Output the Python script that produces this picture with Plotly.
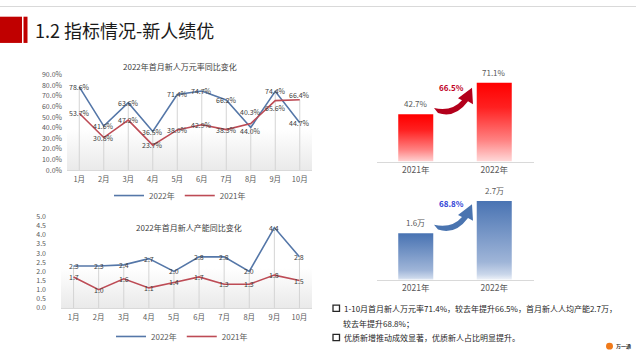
import plotly.graph_objects as go

W, H = 636, 357

months = ['1月', '2月', '3月', '4月', '5月', '6月', '7月', '8月', '9月', '10月']
rate_2022 = [78.6, 41.6, 63.6, 36.5, 71.4, 74.7, 66.2, 40.3, 74.4, 44.7]
rate_2021 = [53.7, 30.8, 47.2, 23.7, 38.0, 42.9, 38.3, 44.0, 65.6, 66.4]
cap_2022 = [2.3, 2.3, 2.36, 2.7, 2.0, 2.8, 2.8, 2.0, 4.4, 2.8]
cap_2021 = [1.7, 1.0, 1.6, 1.1, 1.4, 1.7, 1.3, 1.3, 1.8, 1.5]
years = ['2021年', '2022年']
rate_totals = [42.7, 71.1]
cap_totals = [1.6, 2.7]
rate_growth = '66.5%'
cap_growth = '68.8%'

BLUE = '#5577a8'
RED = '#bd4b55'
FONT = 'Noto Sans CJK SC'
TXT = '#404040'


def px(x):
    return x / W


def py(y):
    return 1 - y / H


fig = go.Figure()
N = len(months)
IDX = list(range(N))


def line_chart(xa, ya, s22, s21, ymax, fmt, legend, shift22, shift21):
    # soft gray gradient background over the plot area
    fig.add_trace(go.Scatter(
        x=[-0.5, -0.5, N - 0.5, N - 0.5], y=[0, ymax, ymax, 0], fill='toself',
        mode='lines', line=dict(width=0, color='rgba(0,0,0,0)'),
        fillgradient=dict(type='vertical', start=0, stop=ymax,
                          colorscale=[[0, '#e8e8e8'], [0.45, '#ffffff'], [1, '#ffffff']]),
        xaxis=xa, yaxis=ya, showlegend=False, hoverinfo='skip'))
    # drop lines from axis up to the higher point
    tops = [max(a, b) for a, b in zip(s22, s21)]
    fig.add_trace(go.Scatter(
        x=IDX, y=tops, mode='markers', marker=dict(size=1, opacity=0),
        error_y=dict(type='data', symmetric=False, array=[0] * N, arrayminus=tops,
                     width=0, thickness=1, color='#d4d4d4'),
        xaxis=xa, yaxis=ya, showlegend=False, hoverinfo='skip'))
    for name, s, col, sh in [('2022年', s22, BLUE, shift22), ('2021年', s21, RED, shift21)]:
        fig.add_trace(go.Scatter(
            x=IDX, y=s, mode='lines', name=name, line=dict(color=col, width=1.6),
            xaxis=xa, yaxis=ya, legend=legend))
        for i, v in enumerate(s):
            fig.add_annotation(x=i, y=v, xref=xa, yref=ya, text=fmt(v), showarrow=False,
                               yshift=sh[i], font=dict(size=7, color=TXT, family=FONT))


sh22_a = [0] * N
sh22_a[7] = 15
sh21_a = [0] * N
sh21_a[7] = -7
sh21_a[8] = -7
sh21_a[9] = 5
line_chart('x', 'y', rate_2022, rate_2021, 90, lambda v: f'{v:.1f}%', 'legend', sh22_a, sh21_a)
line_chart('x2', 'y2', cap_2022, cap_2021, 5, lambda v: f'{v:.1f}', 'legend2', [0] * N, [0] * N)

# ---------- gradient bars ----------
BW = 0.446
red_scale = [[0, '#ffe4e4'], [0.3, '#ff8080'], [0.7, '#ff2020'], [1, '#ff0000']]
blue_scale = [[0, '#ffffff'], [0.1, '#c9d6ea'], [0.25, '#9fb5d8'], [1, '#4a74b3']]


def bars(xa, ya, vals, scale, suffix):
    for i, v in enumerate(vals):
        fig.add_trace(go.Scatter(
            x=[i - BW / 2, i - BW / 2, i + BW / 2, i + BW / 2], y=[0, v, v, 0],
            fill='toself', mode='lines', line=dict(width=0, color='rgba(0,0,0,0)'),
            fillgradient=dict(type='vertical', start=0, stop=v, colorscale=scale),
            xaxis=xa, yaxis=ya, showlegend=False, hoverinfo='skip'))
        fig.add_annotation(x=i, y=v, xref=xa, yref=ya, text=f'{v}{suffix}',
                           showarrow=False, yanchor='bottom', yshift=3,
                           font=dict(size=8, color='#595959', family=FONT))


bars('x3', 'y3', rate_totals, red_scale, '%')
bars('x4', 'y4', cap_totals, blue_scale, '万')

# ---------- axes ----------
tickf = dict(size=7, color='#595959', family=FONT)
monthf = dict(size=7.5, color='#595959', family=FONT)
fig.update_layout(
    xaxis=dict(domain=[px(67), px(312)], range=[-0.5, N - 0.5], anchor='y',
               tickvals=IDX, ticktext=months, zeroline=False,
               showgrid=False, showline=True, linecolor='#d9d9d9', ticks='',
               tickfont=monthf, ticklabelstandoff=2),
    yaxis=dict(domain=[py(169), py(70.7)], range=[0, 90], dtick=10, anchor='x',
               tickformat='.1f', ticksuffix='%', showgrid=False, zeroline=False,
               tickfont=tickf, ticklabelstandoff=4),
    xaxis2=dict(domain=[px(61), px(312)], range=[-0.5, N - 0.5], anchor='y2',
                tickvals=IDX, ticktext=months, zeroline=False,
                showgrid=False, showline=True, linecolor='#d9d9d9', ticks='',
                tickfont=monthf, ticklabelstandoff=2),
    yaxis2=dict(domain=[py(310.7), py(216.7)], range=[0, 5], dtick=0.5, anchor='x2',
                tickformat='.1f', showgrid=False, zeroline=False,
                tickfont=tickf, ticklabelstandoff=14),
    xaxis3=dict(domain=[px(376.5), px(533.5)], range=[-0.5, 1.5], anchor='y3',
                tickvals=[0, 1], ticktext=years, showgrid=False, zeroline=False,
                showline=True, linecolor='#d9d9d9', ticks='',
                tickfont=dict(size=8.5, color='#595959', family=FONT)),
    yaxis3=dict(domain=[py(160), py(68.8)], range=[0, 80], anchor='x3', visible=False),
    xaxis4=dict(domain=[px(376.5), px(533.5)], range=[-0.5, 1.5], anchor='y4',
                tickvals=[0, 1], ticktext=years, showgrid=False, zeroline=False,
                showline=True, linecolor='#d9d9d9', ticks='',
                tickfont=dict(size=8.5, color='#595959', family=FONT)),
    yaxis4=dict(domain=[py(281.7), py(191.7)], range=[0, 3.0], anchor='x4', visible=False),
)

# ---------- legends ----------
legf = dict(size=8, color='#595959', family=FONT)
fig.update_layout(
    legend=dict(orientation='h', x=px(180), y=py(195), xanchor='center', yanchor='middle',
                font=legf, bgcolor='rgba(0,0,0,0)', itemwidth=30, tracegroupgap=0),
    legend2=dict(orientation='h', x=px(182), y=py(340), xanchor='center', yanchor='middle',
                 font=legf, bgcolor='rgba(0,0,0,0)', itemwidth=30, tracegroupgap=0),
)

# ---------- header & decorations ----------
shapes = [
    dict(type='line', xref='paper', yref='paper', x0=0, x1=1, y0=py(0.5), y1=py(0.5),
         line=dict(color='#d9d9d9', width=1)),
    dict(type='rect', xref='paper', yref='paper', x0=px(0), x1=px(22), y0=py(38), y1=py(11),
         fillcolor='#c00000', line=dict(width=0)),
    dict(type='rect', xref='paper', yref='paper', x0=px(23.5), x1=px(27.5), y0=py(38), y1=py(11),
         fillcolor='#c00000', line=dict(width=0)),
]


def path(cmds):
    s = ''
    for c in cmds:
        if isinstance(c, str):
            s += c + ' '
        else:
            s += f'{px(c[0]):.5f},{py(c[1]):.5f} '
    return s


def arrow(dy, color):
    p = ['M', (434, 105 + dy), 'Q', (452, 109 + dy), (462, 97 + dy), 'L', (458, 95 + dy),
         'L', (472, 84 + dy), 'L', (473, 101 + dy), 'L', (468, 98 + dy),
         'Q', (455, 116 + dy), (438, 110 + dy), 'Z']
    return dict(type='path', xref='paper', yref='paper', path=path(p),
                fillcolor=color, line=dict(width=0))


shapes.append(arrow(0, '#b3001b'))
shapes.append(arrow(120, '#4a74b0'))

for yy in [311, 341]:
    shapes.append(dict(type='rect', xref='paper', yref='paper', x0=px(333), x1=px(339.5),
                       y0=py(yy + 3.2), y1=py(yy - 3.2), line=dict(color='#262626', width=1.3),
                       fillcolor='white'))
shapes.append(dict(type='circle', xref='paper', yref='paper', x0=px(606), x1=px(613),
                   y0=py(353.5), y1=py(346.5), fillcolor='#f07a1a', line=dict(width=0)))
fig.update_layout(shapes=shapes)

ann = [
    dict(x=px(33), y=py(25), text='1.2 指标情况-新人绩优', xanchor='left', yanchor='middle',
         font=dict(size=18, color='#1a1a1a', family=FONT)),
    dict(x=px(180), y=py(62), text='2022年首月新人万元率同比变化', xanchor='center', yanchor='middle',
         font=dict(size=8, color='#404040', family=FONT)),
    dict(x=px(189), y=py(228), text='2022年首月新人产能同比变化', xanchor='center', yanchor='middle',
         font=dict(size=8, color='#404040', family=FONT)),
    dict(x=px(452), y=py(84), text='<b>' + rate_growth + '</b>', xanchor='center', yanchor='middle',
         font=dict(size=8, color='#c0001e', family=FONT)),
    dict(x=px(452), y=py(203.5), text='<b>' + cap_growth + '</b>', xanchor='center', yanchor='middle',
         font=dict(size=8, color='#2f3fd6', family=FONT)),
    dict(x=px(342), y=py(311), text='1-10月首月新人万元率71.4%，较去年提升66.5%，首月新人人均产能2.7万，',
         xanchor='left', yanchor='middle', font=dict(size=8, color='#262626', family=FONT)),
    dict(x=px(341), y=py(326.5), text='较去年提升68.8%；',
         xanchor='left', yanchor='middle', font=dict(size=8, color='#262626', family=FONT)),
    dict(x=px(342), y=py(341), text='优质新增推动成效显著，优质新人占比明显提升。',
         xanchor='left', yanchor='middle', font=dict(size=8, color='#262626', family=FONT)),
    dict(x=px(614), y=py(350), text='<b>万一通</b>', xanchor='left', yanchor='middle',
         font=dict(size=5, color='#333333', family=FONT)),
]
for a in ann:
    a.update(xref='paper', yref='paper', showarrow=False)
    fig.add_annotation(**a)

fig.update_layout(
    width=W, height=H, margin=dict(l=0, r=0, t=0, b=0),
    paper_bgcolor='white', plot_bgcolor='rgba(0,0,0,0)',
    font=dict(family=FONT, color='#404040'),
)

fig.write_html('out.html', config={'displayModeBar': False},
               post_script="document.body.style.margin='0';document.body.style.overflow='hidden';")
